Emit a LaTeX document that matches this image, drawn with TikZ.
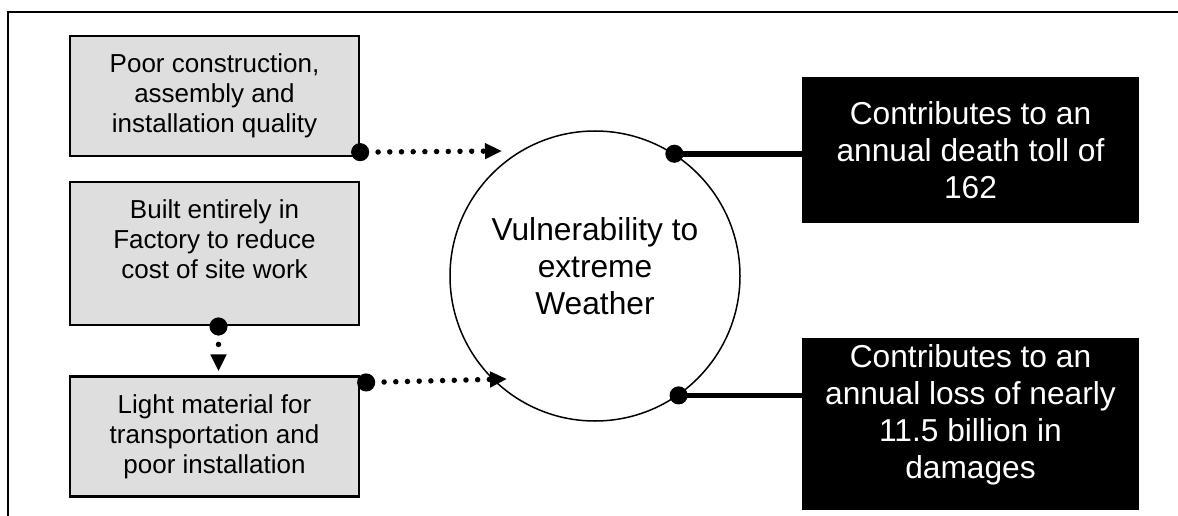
\documentclass[tikz,border=0pt]{standalone}
\usepackage{fontspec}
\setmainfont{Liberation Sans}
\usepackage{tikz}
\usetikzlibrary{arrows.meta,positioning}
\definecolor{boxgray}{gray}{0.87}

\begin{document}
\begin{tikzpicture}[x=1pt,y=-1pt,
  causebox/.style={draw,line width=2.3pt,fill=boxgray,minimum width=289pt,align=center,font=\fontsize{26}{30}\selectfont},
  effectbox/.style={fill=black,text=white,minimum width=337pt,align=center,font=\fontsize{31.7}{37}\selectfont},
  dotline/.style={line width=5.5pt,line cap=round,dash pattern=on 0pt off 11.7pt,shorten <=-9pt,{Circle[length=18pt]}-{Triangle[length=17pt,width=15pt]}},
  thickline/.style={line width=5.5pt,shorten <=-9pt,{Circle[length=18pt]}-}]
  \useasboundingbox (0,0) rectangle (1178,516);
  \draw[line width=2pt] (8,516) -- (8,12) -- (1178,12);
  % causes
  \node (poor) [causebox,minimum height=120pt] at (214.5,96) {Poor construction,\\assembly and\\installation quality};
  \node (built) [causebox,minimum height=143pt,below=24pt of poor] {Built entirely in\\Factory to reduce\\cost of site work\\\mbox{}};
  \node (light) [causebox,minimum height=120pt,below=49pt of built] {Light material for\\transportation and\\poor installation};
  % centre and effects
  \node (vuln) [circle,draw,line width=1.5pt,minimum size=290pt,align=center,font=\fontsize{31.7}{37}\selectfont] at (595,276) {Vulnerability to\\extreme\\Weather\\[-18pt]\mbox{}};
  \node (death) [effectbox,minimum height=146pt] at (970.5,150) {Contributes to an\\annual death toll of\\162};
  \node (loss) [effectbox,minimum height=172pt,below=115pt of death] {Contributes to an\\annual loss of nearly\\11.5 billion in\\damages\\[-12pt]\mbox{}};
  \coordinate (ina) at (502,151);
  \coordinate (inb) at (507,379);
  \draw[dotline] ([yshift=5pt]poor.south east) -- (ina);
  \draw[dotline,shorten >=4pt] ([xshift=4pt]built.south) -- ([xshift=4pt]light.north);
  \draw[dotline] ([xshift=6pt,yshift=-7pt]light.north east) -- (inb);
  \draw[thickline] (vuln.57) -- (vuln.57 -| death.west);
  \draw[thickline] (vuln.-55) -- (vuln.-55 -| loss.west);
\end{tikzpicture}
\end{document}
